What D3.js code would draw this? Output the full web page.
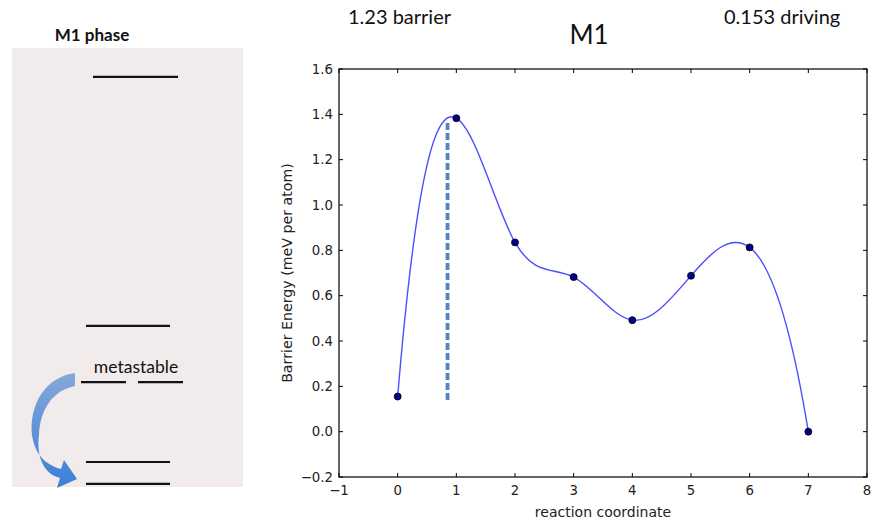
<!DOCTYPE html>
<html>
<head>
<meta charset="utf-8">
<script src="https://cdn.jsdelivr.net/npm/d3@7"></script>
<style>
  html, body { margin: 0; padding: 0; background: #ffffff; }
  svg { display: block; }
</style>
</head>
<body>
<svg id="chart" width="875" height="524"></svg>
<script>
// ---- data ----
const reactionCoord = [0, 1, 2, 3, 4, 5, 6, 7];
const barrierEnergy = [0.155, 1.383, 0.835, 0.682, 0.492, 0.688, 0.813, 0.0];
const barrierMarkerX = [0.85, 0.85];
const barrierMarkerY = [0.14, 1.375];
const xTicks = [-1, 0, 1, 2, 3, 4, 5, 6, 7, 8];
const yTicks = [-0.2, 0.0, 0.2, 0.4, 0.6, 0.8, 1.0, 1.2, 1.4, 1.6];
const titleText = "M1";
const barrierText = "1.23 barrier";
const drivingText = "0.153 driving";
const phaseTitle = "M1 phase";
const metastableText = "metastable";
// schematic energy levels (left panel), in panel units 0..1 (top..bottom)
const levelRows = [0.066, 0.633, 0.761, 0.943, 0.993];

// ---- custom not-a-knot cubic spline curve for d3.line ----
function notAKnotSpline(xs, ys) {
  const n = xs.length;
  const h = [];
  for (let i = 0; i < n - 1; i++) h.push(xs[i + 1] - xs[i]);
  const A = Array.from({ length: n }, () => new Array(n).fill(0));
  const b = new Array(n).fill(0);
  A[0][0] = h[1]; A[0][1] = -(h[0] + h[1]); A[0][2] = h[0];
  for (let i = 1; i < n - 1; i++) {
    A[i][i - 1] = h[i - 1];
    A[i][i] = 2 * (h[i - 1] + h[i]);
    A[i][i + 1] = h[i];
    b[i] = 6 * ((ys[i + 1] - ys[i]) / h[i] - (ys[i] - ys[i - 1]) / h[i - 1]);
  }
  A[n - 1][n - 3] = h[n - 2]; A[n - 1][n - 2] = -(h[n - 3] + h[n - 2]); A[n - 1][n - 1] = h[n - 3];
  for (let c = 0; c < n; c++) {
    let p = c;
    for (let r = c + 1; r < n; r++) if (Math.abs(A[r][c]) > Math.abs(A[p][c])) p = r;
    [A[c], A[p]] = [A[p], A[c]]; [b[c], b[p]] = [b[p], b[c]];
    for (let r = c + 1; r < n; r++) {
      const f = A[r][c] / A[c][c];
      for (let k = c; k < n; k++) A[r][k] -= f * A[c][k];
      b[r] -= f * b[c];
    }
  }
  const M = new Array(n).fill(0);
  for (let r = n - 1; r >= 0; r--) {
    let s = b[r];
    for (let k = r + 1; k < n; k++) s -= A[r][k] * M[k];
    M[r] = s / A[r][r];
  }
  return { h, M };
}
function curveNotAKnot(context) {
  let xs, ys;
  return {
    lineStart() { xs = []; ys = []; },
    lineEnd() {
      const n = xs.length;
      if (n === 0) return;
      context.moveTo(xs[0], ys[0]);
      if (n < 4) { for (let i = 1; i < n; i++) context.lineTo(xs[i], ys[i]); return; }
      const { h, M } = notAKnotSpline(xs, ys);
      for (let i = 0; i < n - 1; i++) {
        const d = (ys[i + 1] - ys[i]) / h[i];
        const s0 = d - h[i] * (2 * M[i] + M[i + 1]) / 6;
        const s1 = d + h[i] * (M[i] + 2 * M[i + 1]) / 6;
        context.bezierCurveTo(
          xs[i] + h[i] / 3, ys[i] + s0 * h[i] / 3,
          xs[i + 1] - h[i] / 3, ys[i + 1] - s1 * h[i] / 3,
          xs[i + 1], ys[i + 1]);
      }
    },
    areaStart() {}, areaEnd() {},
    point(x, y) { xs.push(x); ys.push(y); }
  };
}

const svg = d3.select("#chart");
const uiFont = "Lato, 'Open Sans', sans-serif";

// ---- left schematic panel ----
const panel = svg.append("g");
const px = d3.scaleLinear().domain([0, 1]).range([12, 243]);
const py = d3.scaleLinear().domain([0, 1]).range([48, 487]);
panel.append("rect")
  .attr("x", px(0)).attr("y", py(0))
  .attr("width", px(1) - px(0)).attr("height", py(1) - py(0))
  .attr("fill", "#f1ebeb");
panel.append("text")
  .attr("x", 92).attr("y", 41)
  .attr("text-anchor", "middle")
  .attr("font-family", uiFont)
  .attr("font-weight", "bold")
  .attr("font-size", 17)
  .attr("fill", "#111")
  .text(phaseTitle);

const levelSegs = [
  [93, 178, levelRows[0]],
  [86, 170, levelRows[1]],
  [81, 126, levelRows[2]],
  [138, 183, levelRows[2]],
  [86, 170, levelRows[3]],
  [86, 170, levelRows[4]]
];
panel.selectAll("line.level").data(levelSegs).enter().append("line")
  .attr("class", "level")
  .attr("x1", d => d[0]).attr("x2", d => d[1])
  .attr("y1", d => py(d[2])).attr("y2", d => py(d[2]))
  .attr("stroke", "#111").attr("stroke-width", 2.2);

panel.append("text")
  .attr("x", 136).attr("y", 373)
  .attr("text-anchor", "middle")
  .attr("font-family", uiFont)
  .attr("font-size", 17.5)
  .attr("fill", "#111")
  .text(metastableText);

const defs = svg.append("defs");
const grad = defs.append("linearGradient").attr("id", "arrowGrad")
  .attr("x1", 0).attr("y1", 0).attr("x2", 0).attr("y2", 1);
grad.append("stop").attr("offset", "0%").attr("stop-color", "#86a8d8");
grad.append("stop").attr("offset", "100%").attr("stop-color", "#3a7fd8");
panel.append("path")
  .attr("d", "M75,373 C45,377 29,405 32,435 C35,455 46,465 61,469 L64,460 L77,479 L57,488 L60,478 C44,474 36,457 39,435 C40,408 54,390 75,386 Z")
  .attr("fill", "url(#arrowGrad)");

// ---- main chart ----
const x = d3.scaleLinear().domain([-1, 8]).range([339, 867]);
const y = d3.scaleLinear().domain([-0.2, 1.6]).range([477, 69]);
const fontAxis = "'DejaVu Sans', sans-serif";

const g = svg.append("g");

// tick marks (inside, all four sides)
const tickLen = 4;
g.selectAll("line.xtb").data(xTicks).enter().append("line")
  .attr("x1", d => x(d)).attr("x2", d => x(d))
  .attr("y1", y(-0.2)).attr("y2", y(-0.2) - tickLen)
  .attr("stroke", "#000").attr("stroke-width", 1);
g.selectAll("line.xtt").data(xTicks).enter().append("line")
  .attr("x1", d => x(d)).attr("x2", d => x(d))
  .attr("y1", y(1.6)).attr("y2", y(1.6) + tickLen)
  .attr("stroke", "#000").attr("stroke-width", 1);
g.selectAll("line.ytl").data(yTicks).enter().append("line")
  .attr("x1", x(-1)).attr("x2", x(-1) + tickLen)
  .attr("y1", d => y(d)).attr("y2", d => y(d))
  .attr("stroke", "#000").attr("stroke-width", 1);
g.selectAll("line.ytr").data(yTicks).enter().append("line")
  .attr("x1", x(8)).attr("x2", x(8) - tickLen)
  .attr("y1", d => y(d)).attr("y2", d => y(d))
  .attr("stroke", "#000").attr("stroke-width", 1);

// tick labels
g.selectAll("text.xl").data(xTicks).enter().append("text")
  .attr("x", d => x(d)).attr("y", y(-0.2) + 18)
  .attr("text-anchor", "middle")
  .attr("font-family", fontAxis).attr("font-size", 13.3).attr("fill", "#222")
  .text(d => d3.format("d")(d).replace("-", "\u2212"));
g.selectAll("text.yl").data(yTicks).enter().append("text")
  .attr("x", x(-1) - 6).attr("y", d => y(d) + 4.8)
  .attr("text-anchor", "end")
  .attr("font-family", fontAxis).attr("font-size", 13.3).attr("fill", "#222")
  .text(d => d3.format(".1f")(d).replace("-", "\u2212"));

// axis labels
g.append("text")
  .attr("x", (x(-1) + x(8)) / 2).attr("y", 517)
  .attr("text-anchor", "middle")
  .attr("font-family", fontAxis).attr("font-size", 14).attr("fill", "#222")
  .text("reaction coordinate");
g.append("text")
  .attr("transform", `translate(292,${(y(-0.2) + y(1.6)) / 2}) rotate(-90)`)
  .attr("text-anchor", "middle")
  .attr("font-family", fontAxis).attr("font-size", 14.2).attr("fill", "#222")
  .text("Barrier Energy (meV per atom)");

// dashed barrier marker
const pts = reactionCoord.map((d, i) => ({ x: d, y: barrierEnergy[i] }));
const markerPts = barrierMarkerX.map((d, i) => ({ x: d, y: barrierMarkerY[i] }));
g.append("path")
  .datum(markerPts)
  .attr("d", d3.line().x(d => x(d.x)).y(d => y(d.y)))
  .attr("stroke", "#5585c0").attr("stroke-width", 3.8)
  .attr("stroke-dasharray", "7,3")
  .attr("fill", "none");

// spline curve
g.append("path")
  .datum(pts)
  .attr("d", d3.line().x(d => x(d.x)).y(d => y(d.y)).curve(curveNotAKnot))
  .attr("stroke", "#4d4dff").attr("stroke-width", 1.4)
  .attr("fill", "none");

// points
g.selectAll("circle.pt").data(pts).enter().append("circle")
  .attr("cx", d => x(d.x)).attr("cy", d => y(d.y)).attr("r", 3.5)
  .attr("fill", "#00008b").attr("stroke", "#000").attr("stroke-width", 0.8);

// frame
g.append("rect")
  .attr("x", x(-1)).attr("y", y(1.6))
  .attr("width", x(8) - x(-1)).attr("height", y(-0.2) - y(1.6))
  .attr("fill", "none").attr("stroke", "#000").attr("stroke-width", 1.2);

// title and annotations
svg.append("text")
  .attr("x", 589).attr("y", 44)
  .attr("text-anchor", "middle")
  .attr("font-family", uiFont)
  .attr("font-size", 26).attr("fill", "#111")
  .text(titleText);
svg.append("text")
  .attr("x", 348).attr("y", 24)
  .attr("font-family", uiFont)
  .attr("font-size", 20).attr("fill", "#111")
  .text(barrierText);
svg.append("text")
  .attr("x", 724).attr("y", 24)
  .attr("font-family", uiFont)
  .attr("font-size", 20).attr("fill", "#111")
  .text(drivingText);
</script>
</body>
</html>
